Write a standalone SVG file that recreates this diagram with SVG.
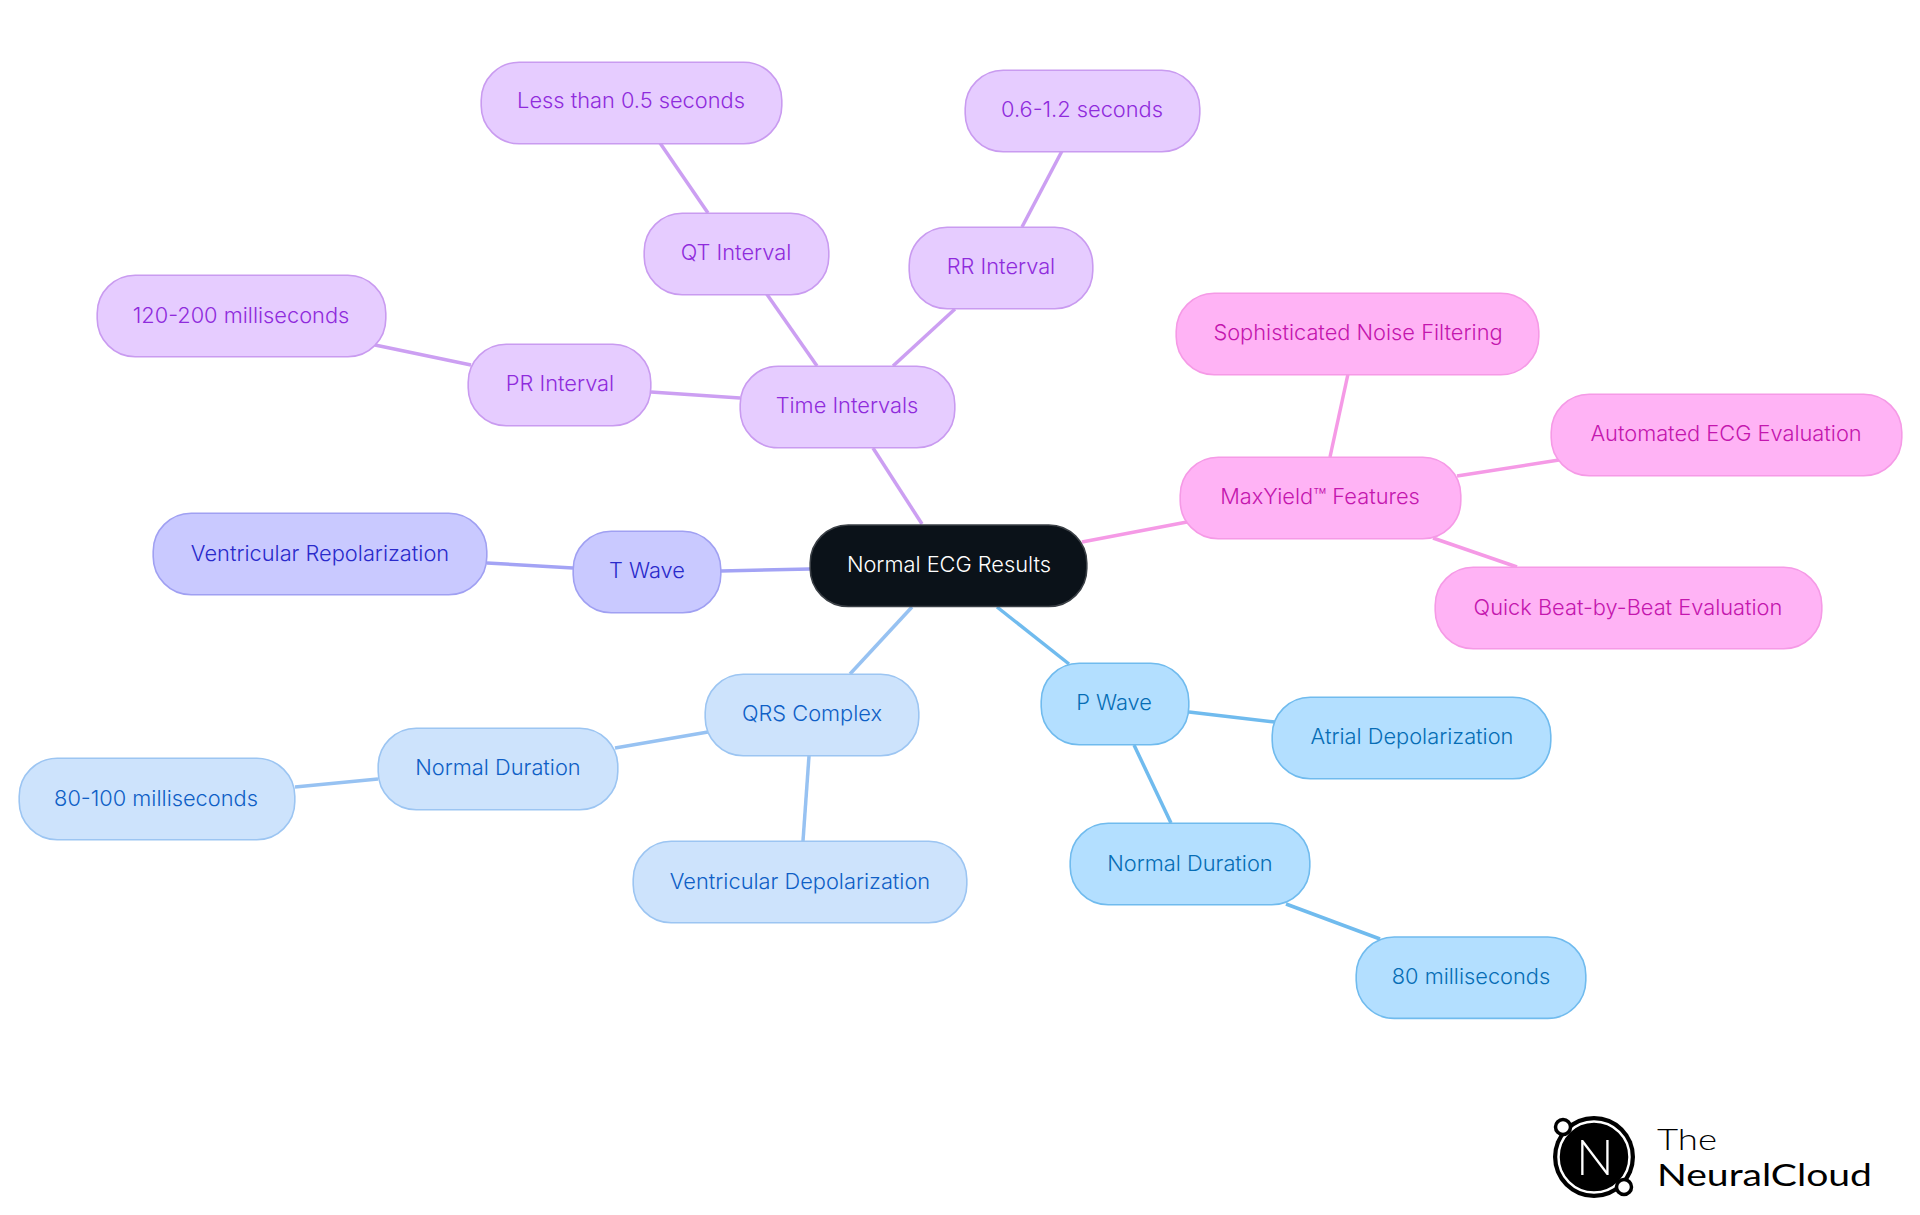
<svg xmlns="http://www.w3.org/2000/svg" width="1920" height="1215" viewBox="0 0 1920 1215">
<style>
text{font-family:Inter,"Noto Sans","Liberation Sans",sans-serif;font-size:21.8px;font-weight:350;text-anchor:middle;letter-spacing:0}
rect{stroke-width:1.6}
line{stroke-width:3.5;fill:none}
.r rect{fill:#0b1219;stroke:#3a3f45}.r text{fill:#fff}
.v rect{fill:#e6ccff;stroke:#c99bf0}.v text{fill:#8f2bdc}.cv{stroke:#cc9ff2}
.m rect{fill:#ffb3f5;stroke:#f59ae6}.m text{fill:#c416ae}.cm{stroke:#f59ae6}
.i rect{fill:#c9c9ff;stroke:#a0a0f2}.i text{fill:#2a2acb}.ci{stroke:#a3a3f5}
.q rect{fill:#cde3fc;stroke:#9cc5f2}.q text{fill:#0f5fc6}.cq{stroke:#97c2f2}
.p rect{fill:#b3dfff;stroke:#70bbee}.p text{fill:#066db5}.cp{stroke:#70bbee}
</style>
<rect width="1920" height="1215" fill="#fff" style="stroke:none"/>
<g id="connectors">
<line class="cv" x1="922" y1="524" x2="873" y2="448"/>
<line class="cm" x1="1082" y1="542" x2="1187" y2="522"/>
<line class="ci" x1="810" y1="569" x2="721" y2="571"/>
<line class="cq" x1="912" y1="607" x2="850" y2="674"/>
<line class="cp" x1="997" y1="607" x2="1069" y2="664"/>
<line class="ci" x1="487" y1="563" x2="573" y2="568"/>
<line class="cv" x1="651" y1="392" x2="740" y2="398"/>
<line class="cv" x1="471" y1="365" x2="375" y2="345"/>
<line class="cv" x1="817" y1="366" x2="766" y2="293"/>
<line class="cv" x1="893" y1="366" x2="955" y2="309"/>
<line class="cv" x1="708" y1="213" x2="660" y2="143"/>
<line class="cv" x1="1022" y1="227" x2="1062" y2="151"/>
<line class="cm" x1="1330" y1="457" x2="1348" y2="374"/>
<line class="cm" x1="1457" y1="476" x2="1559" y2="460"/>
<line class="cm" x1="1433" y1="538" x2="1517" y2="567"/>
<line class="cp" x1="1189" y1="712" x2="1275" y2="722"/>
<line class="cp" x1="1134" y1="745" x2="1171" y2="823"/>
<line class="cp" x1="1286" y1="904" x2="1380" y2="939"/>
<line class="cq" x1="708" y1="732" x2="615" y2="748"/>
<line class="cq" x1="809" y1="756" x2="803" y2="841"/>
<line class="cq" x1="378" y1="779" x2="295" y2="787"/>
</g>
<g id="root" class="r"><rect x="810.2" y="525" width="276.6" height="81.5" rx="38"/><text x="949" y="572">Normal ECG Results</text></g>
<g id="time-intervals" class="v"><rect x="740.2" y="366.2" width="214.6" height="81.6" rx="38"/><text x="847" y="413">Time Intervals</text></g>
<g id="pr-interval" class="v"><rect x="468.2" y="344.2" width="182.6" height="81.6" rx="38"/><text x="560" y="391">PR Interval</text></g>
<g id="pr-value" class="v"><rect x="97.2" y="275.2" width="288.6" height="81.6" rx="38"/><text x="241" y="323">120-200 milliseconds</text></g>
<g id="qt-interval" class="v"><rect x="644.2" y="213.2" width="184.6" height="81.6" rx="38"/><text x="736" y="260">QT Interval</text></g>
<g id="qt-value" class="v"><rect x="481.2" y="62.2" width="300.6" height="81.6" rx="38"/><text x="631" y="108">Less than 0.5 seconds</text></g>
<g id="rr-interval" class="v"><rect x="909.2" y="227.2" width="183.6" height="81.6" rx="38"/><text x="1001" y="274">RR Interval</text></g>
<g id="rr-value" class="v"><rect x="965.2" y="70.2" width="234.6" height="81.6" rx="38"/><text x="1082" y="117">0.6-1.2 seconds</text></g>
<g id="maxyield" class="m"><rect x="1180.2" y="457.2" width="280.6" height="81.6" rx="38"/><text x="1320" y="504">MaxYield™ Features</text></g>
<g id="noise" class="m"><rect x="1176.2" y="293.2" width="362.6" height="81.6" rx="38"/><text x="1358" y="340">Sophisticated Noise Filtering</text></g>
<g id="automated" class="m"><rect x="1551.2" y="394.2" width="350.6" height="81.6" rx="38"/><text x="1726" y="441">Automated ECG Evaluation</text></g>
<g id="quick" class="m"><rect x="1435.2" y="567.2" width="386.6" height="81.6" rx="38"/><text x="1628" y="615">Quick Beat-by-Beat Evaluation</text></g>
<g id="t-wave" class="i"><rect x="573.2" y="531.2" width="147.6" height="81.6" rx="38"/><text x="647" y="578">T Wave</text></g>
<g id="repolarization" class="i"><rect x="153.2" y="513.2" width="333.6" height="81.6" rx="38"/><text x="320" y="561">Ventricular Repolarization</text></g>
<g id="qrs" class="q"><rect x="705.2" y="674.2" width="213.6" height="81.6" rx="38"/><text x="812" y="721">QRS Complex</text></g>
<g id="qrs-duration" class="q"><rect x="378.2" y="728.2" width="239.6" height="81.6" rx="38"/><text x="498" y="775">Normal Duration</text></g>
<g id="qrs-value" class="q"><rect x="19.2" y="758.2" width="275.6" height="81.6" rx="38"/><text x="156" y="806">80-100 milliseconds</text></g>
<g id="depolarization" class="q"><rect x="633.2" y="841.2" width="333.6" height="81.6" rx="38"/><text x="800" y="889">Ventricular Depolarization</text></g>
<g id="p-wave" class="p"><rect x="1041.2" y="663.2" width="147.6" height="81.6" rx="38"/><text x="1114" y="710">P Wave</text></g>
<g id="atrial" class="p"><rect x="1272.2" y="697.2" width="278.6" height="81.6" rx="38"/><text x="1412" y="744">Atrial Depolarization</text></g>
<g id="p-duration" class="p"><rect x="1070.2" y="823.2" width="239.6" height="81.6" rx="38"/><text x="1190" y="871">Normal Duration</text></g>
<g id="p-value" class="p"><rect x="1356.2" y="937" width="229.6" height="81.4" rx="38"/><text x="1471" y="984">80 milliseconds</text></g>
<g id="logo">
<circle cx="1594" cy="1157" r="41" fill="#000"/>
<circle cx="1594" cy="1157" r="35.5" fill="#000" stroke="#fff" stroke-width="2.5"/>
<circle cx="1563" cy="1127" r="7.5" fill="#fff" stroke="#000" stroke-width="3.5"/>
<circle cx="1624" cy="1187" r="7.5" fill="#fff" stroke="#000" stroke-width="3.5"/>
<text x="1595" y="1175" style="font-family:Lato,sans-serif;font-size:50px;font-weight:300;fill:#fff">N</text>
<text x="1657" y="1150" textLength="60" lengthAdjust="spacingAndGlyphs" style="font-family:Lato,sans-serif;font-size:29px;font-weight:300;text-anchor:start;fill:#000">The</text>
<text x="1657" y="1186" textLength="215" lengthAdjust="spacingAndGlyphs" style="font-family:Lato,sans-serif;font-size:30px;font-weight:400;text-anchor:start;fill:#000">NeuralCloud</text>
</g>
</svg>
